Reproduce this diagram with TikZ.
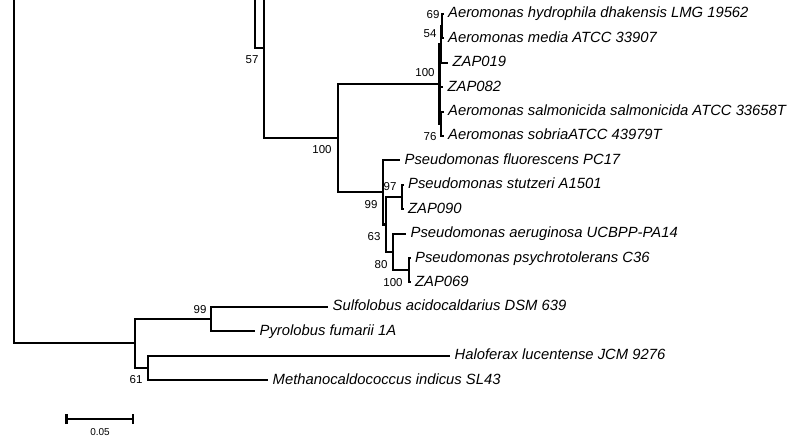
\documentclass[tikz,border=0pt]{standalone}
\usepackage{fontspec}
\setmainfont{Liberation Sans}
\begin{document}
\begin{tikzpicture}[x=1pt,y=-1pt,
  br/.style={line width=2.1pt},
  taxon/.style={anchor=west, inner xsep=4.5pt, inner ysep=0pt, text height=10.5pt, text depth=2.5pt, font=\fontsize{14.8}{17}\selectfont\itshape},
  bs/.style={inner sep=0pt, font=\fontsize{11.5}{13}\selectfont},
  sbl/.style={inner sep=0pt, font=\fontsize{10}{12}\selectfont}]
\useasboundingbox (0,0) rectangle (800,438);
\clip (0,0) rectangle (800,438);
% ---- taxa ----
\node[taxon] (t1)  at (443.5,14)    {Aeromonas hydrophila dhakensis LMG 19562};
\node[taxon] (t2)  at (443.5,38.4)  {Aeromonas media ATCC 33907};
\node[taxon] (t3)  at (448,62.8)    {ZAP019};
\node[taxon] (t4)  at (443,87.2)    {ZAP082};
\node[taxon] (t5)  at (443.5,111.6) {Aeromonas salmonicida salmonicida ATCC 33658T};
\node[taxon] (t6)  at (443.5,136)   {Aeromonas sobriaATCC 43979T};
\node[taxon] (t7)  at (400,160.4)   {Pseudomonas fluorescens PC17};
\node[taxon] (t8)  at (403.5,184.8) {Pseudomonas stutzeri A1501};
\node[taxon] (t9)  at (403.5,209.2) {ZAP090};
\node[taxon] (t10) at (406,233.6)   {Pseudomonas aeruginosa UCBPP-PA14};
\node[taxon] (t11) at (410.5,258)   {Pseudomonas psychrotolerans C36};
\node[taxon] (t12) at (410.5,282.4) {ZAP069};
\node[taxon] (t13) at (328,306.8)   {Sulfolobus acidocaldarius DSM 639};
\node[taxon] (t14) at (255,331.2)   {Pyrolobus fumarii 1A};
\node[taxon] (t15) at (450,355.6)   {Haloferax lucentense JCM 9276};
\node[taxon] (t16) at (268,380)     {Methanocaldococcus indicus SL43};
% ---- internal nodes ----
\coordinate (a1) at (442,26.2);
\coordinate (a2) at (440.8,44.5);
\coordinate (a3) at (441,123.8);
\coordinate (aer) at (439.5,84.2);
\coordinate (p97) at (402,197);
\coordinate (p100) at (409,270.2);
\coordinate (p80) at (393,251.9);
\coordinate (p63) at (386,224.5);
\coordinate (p99) at (383,192.4);
\coordinate (n100) at (338,138.3);
\coordinate (n57) at (264,47.7);
\coordinate (n57top) at (264,-5);
\coordinate (u255top) at (255,-5);
\coordinate (ar99) at (211,319);
\coordinate (ar61) at (148,367.8);
\coordinate (arch) at (135,343.4);
\coordinate (root) at (14,343.4);
\coordinate (roottop) at (14,-5);
% ---- branches ----
\draw[br] (roottop) -- (root) -- (arch);
\draw[br] (arch) |- (ar99);
\draw[br] (arch) |- (ar61);
\draw[br] (ar99) |- (t13.west);
\draw[br] (ar99) |- (t14.west);
\draw[br] (ar61) |- (t15.west);
\draw[br] (ar61) |- (t16.west);
\draw[br] (u255top) |- (n57);
\draw[br] (n57top) |- (n100);
\draw[br] (n100) |- (aer);
\draw[br] (n100) |- (p99);
\draw[br] (aer) |- (a2);
\draw[br] (aer) |- (t4.west);
\draw[br] (aer) |- (a3);
\draw[br] (a2) |- (a1);
\draw[br] (a2) |- (t3.west);
\draw[br] (a1) |- (t1.west);
\draw[br] (a1) |- (t2.west);
\draw[br] (a3) |- (t5.west);
\draw[br] (a3) |- (t6.west);
\draw[br] (p99) |- (t7.west);
\draw[br] (p99) |- (p63);
\draw[br] (p63) |- (p97);
\draw[br] (p63) |- (p80);
\draw[br] (p97) |- (t8.west);
\draw[br] (p97) |- (t9.west);
\draw[br] (p80) |- (t10.west);
\draw[br] (p80) |- (p100);
\draw[br] (p100) |- (t11.west);
\draw[br] (p100) |- (t12.west);
% ---- bootstrap values ----
\node[bs] (b69) at (433,15) {69};
\node[bs] (b54) at (430,34) {54};
\node[bs] (b100a) at (425,73) {100};
\node[bs] (b76) at (430,137) {76};
\node[bs] (b57) at (252,60) {57};
\node[bs] (b100b) at (322,150) {100};
\node[bs] (b97) at (390,187) {97};
\node[bs] (b99a) at (371,205) {99};
\node[bs] (b63) at (374,237) {63};
\node[bs] (b80) at (381,265) {80};
\node[bs] (b100c) at (393,283) {100};
\node[bs] (b99b) at (200,310) {99};
\node[bs] (b61) at (136,380) {61};
% ---- scale bar ----
\coordinate (sbL) at (66.5,419);
\coordinate (sbR) at (133,419);
\draw[line width=2.6pt] (sbL) -- (sbR);
\draw[line width=2.6pt] ([yshift=-5pt]sbL) -- ([yshift=5pt]sbL);
\draw[line width=2.6pt] ([yshift=-5pt]sbR) -- ([yshift=5pt]sbR);
\node[sbl] (sbt) at (100,432) {0.05};
\end{tikzpicture}
\end{document}
